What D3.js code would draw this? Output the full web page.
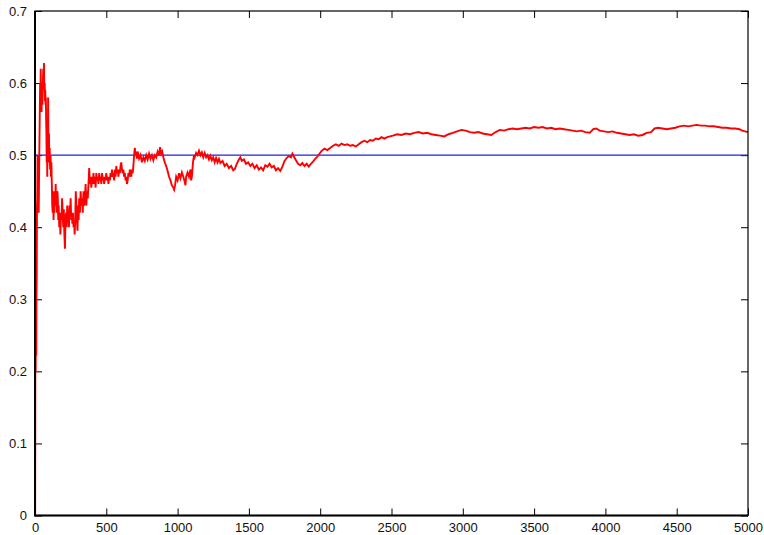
<!DOCTYPE html>
<html>
<head>
<meta charset="utf-8">
<script src="https://cdn.jsdelivr.net/npm/d3@7"></script>
<style>
  body { margin: 0; background: #fff; }
  svg { display: block; font-family: "Liberation Sans", Arial, sans-serif; }
  .axis text { font-size: 13px; fill: #111; }
  .axis path { display: none; }
  .axis line { stroke: #000; }
</style>
</head>
<body>
<div id="chart"></div>
<script>
// number of tosses
const trials = [
  0, 1, 3, 4, 5, 6, 7, 9, 10, 12, 14, 16, 18, 20, 22, 24, 26, 28, 30, 33, 36, 38, 40, 42, 44, 46, 48,
  50, 52, 55, 58, 61, 63, 65, 68, 70, 72, 74, 76, 78, 80, 82, 84, 86, 88, 90, 92, 94, 96, 98,
  100, 103, 106, 109, 112, 115, 118, 121, 124, 127, 130, 133, 136, 139, 142, 145, 148, 151, 154, 157,
  160, 163, 166, 170, 174, 178, 182, 186, 190, 194, 198, 202, 206, 210, 214, 218, 222, 226, 230, 234,
  238, 242, 246, 250, 254, 258, 262, 266, 270, 274, 278, 282, 286, 290, 294, 298, 302, 306,
  310, 315, 320, 325, 330, 335, 340, 345, 350, 355, 360, 365, 370, 375, 380, 385, 390, 395,
  400, 405, 410, 415, 420, 425, 430, 435, 440, 445, 450, 455, 460, 465, 470, 475, 480, 485, 490, 495,
  500, 505, 510, 515, 520, 525, 530, 535, 540, 545, 550, 555, 560, 565, 570, 575, 580, 585, 590, 595,
  600, 605, 610, 615, 620, 625, 630, 635, 640, 645, 650, 655, 660, 665, 670, 675, 680, 685, 690, 695,
  700, 705, 710, 715, 720, 730, 740, 750, 760, 770, 780, 790, 800, 810, 820, 830, 840, 850, 860, 870,
  877, 885, 892, 900, 910, 920, 930, 940, 950, 960, 970, 976, 982, 990, 1000, 1010, 1020, 1030, 1040,
  1050, 1055, 1060, 1070, 1080, 1090, 1095, 1100, 1108, 1115, 1120, 1130, 1140, 1150, 1160, 1170, 1180,
  1190, 1200, 1210, 1220, 1230, 1240, 1250, 1260, 1270, 1280, 1290, 1300, 1315, 1330, 1345, 1360, 1375,
  1390, 1402, 1415, 1430, 1440, 1450, 1465, 1480, 1495, 1510, 1525, 1540, 1555, 1570, 1585, 1600, 1615,
  1630, 1645, 1660, 1675, 1690, 1705, 1720, 1735, 1750, 1765, 1780, 1795, 1805, 1815, 1830, 1845, 1860,
  1875, 1890, 1905, 1920, 1935, 1950, 1965, 1980, 1995, 2010, 2030, 2050, 2070, 2090, 2110, 2130, 2150,
  2170, 2190, 2210, 2230, 2250, 2270, 2290, 2310, 2330, 2350, 2370, 2390, 2410, 2430, 2450, 2470, 2490,
  2510, 2540, 2570, 2600, 2630, 2660, 2690, 2720, 2750, 2780, 2810, 2840, 2870, 2900, 2930, 2960, 2990,
  3020, 3050, 3080, 3110, 3140, 3170, 3200, 3230, 3260, 3290, 3320, 3350, 3380, 3410, 3440, 3470, 3500,
  3530, 3560, 3590, 3620, 3650, 3680, 3710, 3740, 3770, 3800, 3830, 3860, 3890, 3915, 3935, 3960, 3990,
  4020, 4050, 4080, 4110, 4140, 4170, 4200, 4230, 4260, 4290, 4320, 4345, 4370, 4400, 4430, 4460, 4490,
  4520, 4550, 4580, 4610, 4640, 4670, 4700, 4730, 4760, 4790, 4820, 4850, 4880, 4910, 4940, 4960, 4980, 5000
];

// running share of heads
const share = [
  0, 0, 0.333, 0.25, 0.2, 0.333, 0.286, 0.222, 0.3, 0.333, 0.43, 0.44, 0.5, 0.45, 0.5, 0.46, 0.42, 0.46, 0.5, 0.55, 0.6, 0.58, 0.62, 0.57, 0.6, 0.56, 0.59,
  0.6, 0.57, 0.6, 0.62, 0.6, 0.628, 0.59, 0.6, 0.575, 0.59, 0.57, 0.58, 0.55, 0.53, 0.49, 0.52, 0.47, 0.51, 0.5, 0.58, 0.52, 0.5, 0.53,
  0.49, 0.51, 0.48, 0.5, 0.47, 0.49, 0.46, 0.43, 0.42, 0.45, 0.41, 0.44, 0.42, 0.45, 0.43, 0.46, 0.43, 0.44, 0.42, 0.45,
  0.44, 0.41, 0.43, 0.40, 0.42, 0.39, 0.42, 0.41, 0.44, 0.42, 0.40, 0.425, 0.39, 0.37, 0.41, 0.42, 0.40, 0.43, 0.41, 0.42,
  0.40, 0.43, 0.42, 0.44, 0.41, 0.42, 0.405, 0.42, 0.40, 0.41, 0.39, 0.41, 0.45, 0.43, 0.41, 0.395, 0.43, 0.41,
  0.44, 0.42, 0.45, 0.43, 0.44, 0.42, 0.45, 0.43, 0.44, 0.46, 0.43, 0.45, 0.44, 0.46, 0.482, 0.46, 0.47, 0.455,
  0.47, 0.46, 0.475, 0.46, 0.47, 0.455, 0.475, 0.465, 0.47, 0.46, 0.475, 0.465, 0.47, 0.46, 0.475, 0.465, 0.47, 0.46, 0.47, 0.465,
  0.475, 0.465, 0.47, 0.46, 0.47, 0.465, 0.475, 0.47, 0.48, 0.47, 0.475, 0.465, 0.48, 0.47, 0.485, 0.475, 0.48, 0.47, 0.48, 0.475,
  0.485, 0.49, 0.48, 0.475, 0.48, 0.47, 0.475, 0.465, 0.47, 0.46, 0.465, 0.475, 0.47, 0.48, 0.475, 0.47, 0.48, 0.475, 0.485, 0.5,
  0.51, 0.5, 0.505, 0.495, 0.505, 0.495, 0.5, 0.49, 0.497, 0.492, 0.5, 0.494, 0.502, 0.495, 0.5, 0.493, 0.5, 0.497, 0.505, 0.5,
  0.511, 0.502, 0.505, 0.497, 0.49, 0.485, 0.478, 0.47, 0.465, 0.458, 0.455, 0.452, 0.458, 0.47, 0.465, 0.475, 0.468, 0.476, 0.47,
  0.463, 0.458, 0.47, 0.476, 0.47, 0.48, 0.465, 0.47, 0.49, 0.5, 0.497, 0.503, 0.5, 0.506, 0.5, 0.504, 0.497,
  0.503, 0.497, 0.5, 0.494, 0.499, 0.493, 0.497, 0.49, 0.496, 0.49, 0.495, 0.489, 0.492, 0.485, 0.488, 0.482, 0.485,
  0.479, 0.481, 0.488, 0.494, 0.497, 0.492, 0.494, 0.488, 0.49, 0.485, 0.488, 0.482, 0.486, 0.48, 0.483, 0.479, 0.486,
  0.484, 0.488, 0.483, 0.485, 0.479, 0.482, 0.478, 0.484, 0.492, 0.496, 0.499, 0.497, 0.502, 0.498, 0.493, 0.488, 0.486,
  0.489, 0.485, 0.488, 0.484, 0.488, 0.491, 0.495, 0.498, 0.502, 0.506, 0.509, 0.507, 0.51, 0.513, 0.515, 0.513, 0.516,
  0.514, 0.515, 0.513, 0.514, 0.512, 0.515, 0.518, 0.52, 0.518, 0.521, 0.52, 0.523, 0.522, 0.525, 0.523, 0.525, 0.526,
  0.527, 0.529, 0.528, 0.53, 0.529, 0.531, 0.532, 0.53, 0.531, 0.529, 0.528, 0.527, 0.526, 0.529, 0.531, 0.533, 0.535,
  0.534, 0.532, 0.531, 0.532, 0.53, 0.529, 0.528, 0.532, 0.535, 0.534, 0.536, 0.537, 0.536, 0.537, 0.538, 0.537, 0.539,
  0.538, 0.539, 0.537, 0.538, 0.536, 0.537, 0.536, 0.535, 0.534, 0.533, 0.534, 0.532, 0.531, 0.536, 0.537, 0.534, 0.533,
  0.532, 0.533, 0.531, 0.53, 0.529, 0.528, 0.529, 0.527, 0.528, 0.531, 0.532, 0.537, 0.538, 0.537, 0.536, 0.537, 0.538,
  0.54, 0.541, 0.54, 0.541, 0.542, 0.541, 0.541, 0.54, 0.54, 0.539, 0.538, 0.538, 0.537, 0.537, 0.536, 0.534, 0.533, 0.532
];

const expected = 0.5;
const xTicks = [0, 500, 1000, 1500, 2000, 2500, 3000, 3500, 4000, 4500, 5000];
const yTicks = [0, 0.1, 0.2, 0.3, 0.4, 0.5, 0.6, 0.7];

const width = 764;
const height = 535;
const margin = { top: 11, right: 16, bottom: 19.5, left: 35 };
const innerW = width - margin.left - margin.right;
const innerH = height - margin.top - margin.bottom;

const svg = d3.select('#chart')
  .append('svg')
  .attr('width', width)
  .attr('height', height);

const g = svg.append('g')
  .attr('transform', `translate(${margin.left}, ${margin.top})`);

const x = d3.scaleLinear().domain([0, 5000]).range([0, innerW]);
const y = d3.scaleLinear().domain([0, 0.7]).range([innerH, 0]);

const fmtY = d => (d === 0 ? '0' : d3.format('.1f')(d));

// ticks point inward on all four sides
g.append('g')
  .attr('class', 'axis')
  .attr('transform', `translate(0, ${innerH})`)
  .call(d3.axisBottom(x).tickValues(xTicks).tickSizeInner(-7).tickSizeOuter(0).tickPadding(7).tickFormat(d3.format('d')));

g.append('g')
  .attr('class', 'axis')
  .call(d3.axisTop(x).tickValues(xTicks).tickSizeInner(-7).tickSizeOuter(0).tickFormat(''));

g.append('g')
  .attr('class', 'axis')
  .call(d3.axisLeft(y).tickValues(yTicks).tickSizeInner(-7).tickSizeOuter(0).tickPadding(8).tickFormat(fmtY));

g.append('g')
  .attr('class', 'axis')
  .attr('transform', `translate(${innerW}, 0)`)
  .call(d3.axisRight(y).tickValues(yTicks).tickSizeInner(-7).tickSizeOuter(0).tickFormat(''));

// reference line at one half
g.append('line')
  .attr('x1', x(0))
  .attr('x2', x(5000))
  .attr('y1', y(expected))
  .attr('y2', y(expected))
  .attr('stroke', '#2020e0')
  .attr('stroke-width', 1.2);

const points = trials.map((n, i) => [n, share[i]]);

g.append('path')
  .datum(points)
  .attr('fill', 'none')
  .attr('stroke', '#ff0000')
  .attr('stroke-width', 1.9)
  .attr('stroke-linejoin', 'miter')
  .attr('d', d3.line().x(d => x(d[0])).y(d => y(d[1])));

// frame: top/right thin, left/bottom heavier
g.append('rect')
  .attr('width', innerW)
  .attr('height', innerH)
  .attr('fill', 'none')
  .attr('stroke', '#000')
  .attr('stroke-width', 1.2);

g.append('path')
  .attr('d', `M0,0V${innerH}H${innerW}`)
  .attr('fill', 'none')
  .attr('stroke', '#000')
  .attr('stroke-width', 2);
</script>
</body>
</html>
